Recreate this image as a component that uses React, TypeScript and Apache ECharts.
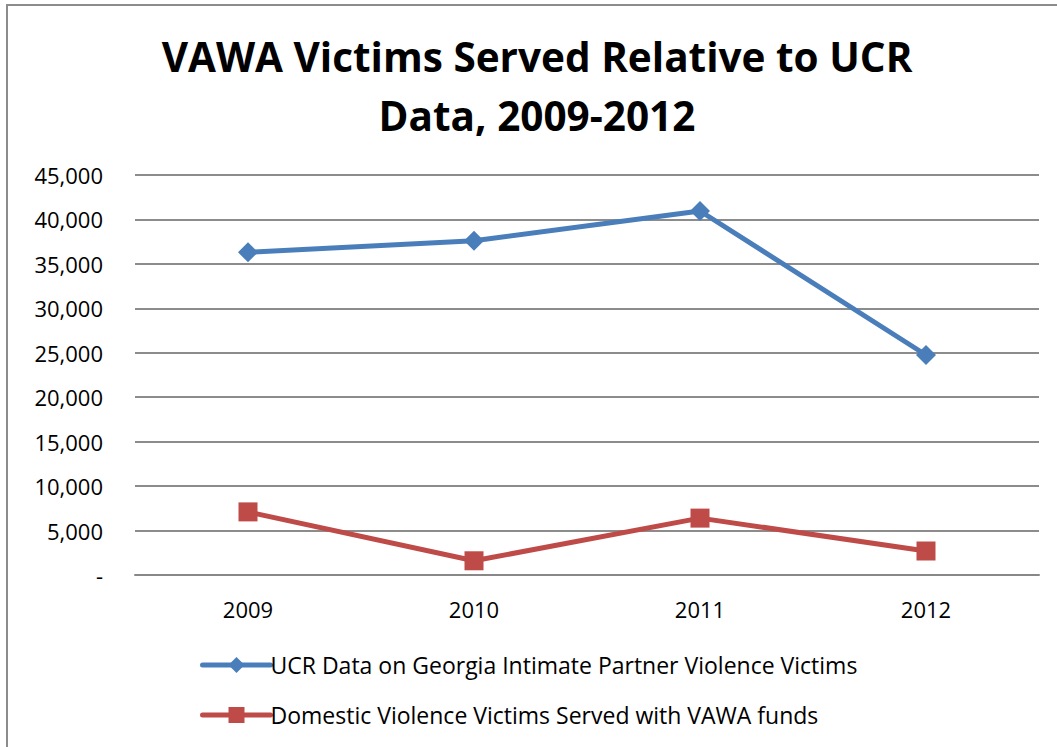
import React, { useEffect, useRef } from "react";
import * as echarts from "echarts";

const years = ["2009", "2010", "2011", "2012"];
const ucrVictims = [36300, 37600, 40950, 24750];
const vawaServed = [7100, 1600, 6400, 2700];
const seriesNames = [
  "UCR Data on Georgia Intimate Partner Violence Victims",
  "Domestic Violence Victims Served with VAWA funds",
];
const titleText = "VAWA Victims Served Relative to UCR\nData, 2009-2012";

const FONT = "'Open Sans', 'Liberation Sans', sans-serif";

export default function App() {
  const ref = useRef<HTMLDivElement>(null);
  useEffect(() => {
    document.body.style.margin = "0";
    const chart = echarts.init(ref.current!, undefined, { renderer: "svg" });
    chart.setOption({
      animation: false,
      backgroundColor: "#ffffff",
      textStyle: { fontFamily: FONT },
      title: {
        text: titleText,
        left: 532,
        textAlign: "center",
        top: 22,
        textStyle: {
          fontFamily: FONT,
          fontSize: 40.5,
          fontWeight: "bold",
          color: "#000",
          lineHeight: 59,
        },
      },
      graphic: [
        {
          type: "rect",
          shape: { x: 7, y: 5, width: 1100, height: 800 },
          style: { fill: "none", stroke: "#8c8c8c", lineWidth: 2 },
          silent: true,
        },
      ],
      grid: { left: 135, right: 18, top: 175, bottom: 172, containLabel: false },
      xAxis: {
        type: "category",
        data: years,
        boundaryGap: true,
        axisLine: { show: true, lineStyle: { color: "#888", width: 2 } },
        axisTick: { show: false },
        axisLabel: { fontSize: 22, color: "#000", margin: 23, fontFamily: FONT },
      },
      yAxis: {
        type: "value",
        min: 0,
        max: 45000,
        interval: 5000,
        axisLine: { show: false },
        axisTick: { show: false },
        axisLabel: {
          fontSize: 22,
          color: "#000",
          margin: 32,
          fontFamily: FONT,
          formatter: (v: number) => (v === 0 ? "-" : v.toLocaleString("en-US")),
        },
        splitLine: { lineStyle: { color: "#8c8c8c", width: 2 } },
      },
      legend: {
        orient: "vertical",
        left: 195,
        top: 647,
        itemGap: 24,
        itemWidth: 68,
        itemHeight: 20,
        lineStyle: { width: 5, cap: "round" },
        textStyle: {
          fontSize: 23,
          lineHeight: 26,
          color: "#000",
          fontFamily: FONT,
          padding: [0, 0, 0, -5],
        },
        data: seriesNames.map((name) => ({
          name,
          lineStyle: { width: 5, cap: "round" },
        })),
      },
      series: [
        {
          name: seriesNames[0],
          type: "line",
          data: ucrVictims,
          symbol: "diamond",
          symbolSize: 20,
          lineStyle: { color: "#4a7ebb", width: 5 },
          itemStyle: { color: "#4a7ebb" },
        },
        {
          name: seriesNames[1],
          type: "line",
          data: vawaServed,
          symbol: "rect",
          symbolSize: 19,
          lineStyle: { color: "#be4b48", width: 5 },
          itemStyle: { color: "#be4b48" },
        },
      ],
    });
    return () => chart.dispose();
  }, []);
  return <div ref={ref} style={{ width: 1057, height: 747 }} />;
}
